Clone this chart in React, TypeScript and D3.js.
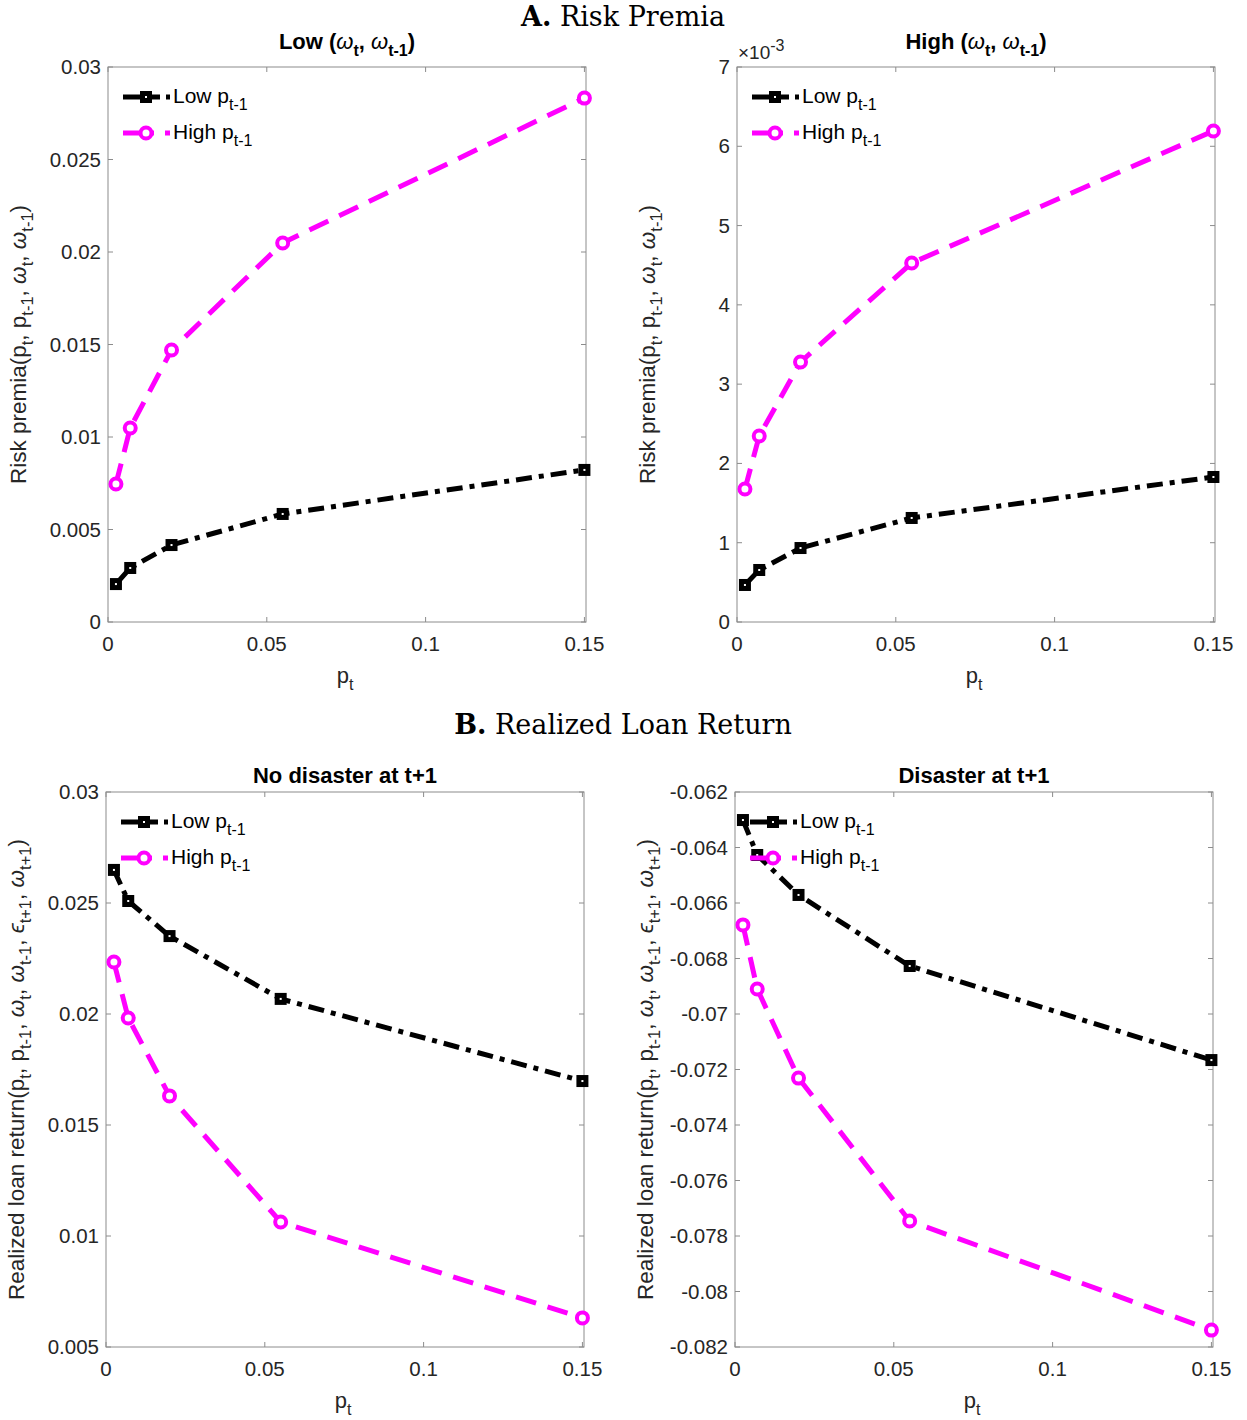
import React from "react";
import * as d3 from "d3";

const pT = [0.0025, 0.007, 0.02, 0.055, 0.15];

const rpLowOmegaLowP = [0.00205, 0.00292, 0.00416, 0.00584, 0.00822];
const rpLowOmegaHighP = [0.00746, 0.01049, 0.0147, 0.02049, 0.02832];
const rpHighOmegaLowP = [0.467, 0.656, 0.933, 1.312, 1.829];
const rpHighOmegaHighP = [1.677, 2.346, 3.279, 4.528, 6.193];

const retNoDisLowP = [0.02649, 0.02509, 0.02351, 0.02068, 0.01698];
const retNoDisHighP = [0.02234, 0.01982, 0.01631, 0.01063, 0.00631];
const retDisLowP = [-0.06301, -0.06427, -0.06571, -0.06827, -0.07166];
const retDisHighP = [-0.06679, -0.0691, -0.07231, -0.07746, -0.08139];

const xTicks = [0, 0.05, 0.1, 0.15];
const xTickLabels = ["0", "0.05", "0.1", "0.15"];
const yTicksA1 = [0, 0.005, 0.01, 0.015, 0.02, 0.025, 0.03];
const yTickLabelsA1 = ["0", "0.005", "0.01", "0.015", "0.02", "0.025", "0.03"];
const yTicksA2 = [0, 1, 2, 3, 4, 5, 6, 7];
const yTickLabelsA2 = ["0", "1", "2", "3", "4", "5", "6", "7"];
const yTicksB1 = [0.005, 0.01, 0.015, 0.02, 0.025, 0.03];
const yTickLabelsB1 = ["0.005", "0.01", "0.015", "0.02", "0.025", "0.03"];
const yTicksB2 = [-0.082, -0.08, -0.078, -0.076, -0.074, -0.072, -0.07, -0.068, -0.066, -0.064, -0.062];
const yTickLabelsB2 = ["-0.082", "-0.08", "-0.078", "-0.076", "-0.074", "-0.072", "-0.07", "-0.068", "-0.066", "-0.064", "-0.062"];

const legendLabels = ["Low", "High"];

type Part = { t: string; sub?: boolean; it?: boolean; bold?: boolean };

const SANS = "'Liberation Sans', Arial, sans-serif";
const SERIF = "'DejaVu Serif', 'Liberation Serif', serif";
const AX = "#262626";
const BOXC = "#8c8c8c";

function Rich({ parts, subSize }: { parts: Part[]; subSize: number }) {
  const out: any[] = [];
  let prevSub = false;
  parts.forEach((p, i) => {
    let dy = 0;
    if (p.sub && !prevSub) dy = subSize * 0.45;
    if (!p.sub && prevSub) dy = -subSize * 0.45;
    out.push(
      <tspan
        key={i}
        dy={dy || undefined}
        fontSize={p.sub ? subSize : undefined}
        fontStyle={p.it ? "italic" : undefined}
        fontWeight={p.bold === false ? "normal" : p.bold ? "bold" : undefined}
      >
        {p.t}
      </tspan>
    );
    prevSub = !!p.sub;
  });
  return <>{out}</>;
}

const W = 478;
const H = 555;

function Marker({ kind, x, y }: { kind: string; x: number; y: number }) {
  if (kind === "sq")
    return (
      <g>
        <rect x={x - 6} y={y - 6} width={12} height={12} fill="#000" />
        <rect x={x - 1} y={y - 1} width={2} height={2} fill="#fff" />
      </g>
    );
  return <circle cx={x} cy={y} r={5.5} fill="#fff" stroke="#ff00ff" strokeWidth={4} />;
}

function Panel(props: {
  left: number;
  top: number;
  yDomain: [number, number];
  yTicks: number[];
  yLabels: string[];
  title: Part[];
  titleY: number;
  ylabel: Part[];
  low: number[];
  high: number[];
  exponent?: boolean;
}) {
  const { left, top, yDomain, yTicks, yLabels, title, titleY, ylabel, low, high, exponent } = props;
  const x = d3.scaleLinear().domain([0, 0.1505]).range([left, left + W]);
  const y = d3.scaleLinear().domain(yDomain).range([top + H, top]);
  const lineGen = (vals: number[]) =>
    d3
      .line<number>()
      .x((_, i) => x(pT[i]))
      .y((v) => y(v))(vals) as string;
  const blackDash = "16 7 5 7";
  const magDash = "21 12";
  const series = [
    { vals: low, color: "#000", dash: blackDash, mk: "sq", ldash: "37 6 4 100" },
    { vals: high, color: "#ff00ff", dash: magDash, mk: "ci", ldash: "31 11 5 100" },
  ];
  return (
    <g>
      <rect x={left} y={top} width={W} height={H} fill="#fff" stroke={BOXC} strokeWidth={1} />
      {xTicks.map((t, i) => (
        <g key={"xt" + i}>
          <line x1={x(t)} x2={x(t)} y1={top + H} y2={top + H - 5} stroke={BOXC} />
          <line x1={x(t)} x2={x(t)} y1={top} y2={top + 5} stroke={BOXC} />
          <text x={x(t)} y={top + H + 29} textAnchor="middle" fontSize={20.5} fill={AX} fontFamily={SANS}>
            {xTickLabels[i]}
          </text>
        </g>
      ))}
      {yTicks.map((t, i) => (
        <g key={"yt" + i}>
          <line x1={left} x2={left + 5} y1={y(t)} y2={y(t)} stroke={BOXC} />
          <line x1={left + W} x2={left + W - 5} y1={y(t)} y2={y(t)} stroke={BOXC} />
          <text x={left - 7} y={y(t) + 7} textAnchor="end" fontSize={20.5} fill={AX} fontFamily={SANS}>
            {yLabels[i]}
          </text>
        </g>
      ))}
      {exponent && (
        <text x={left + 1} y={top - 8} fontSize={19} fill={AX} fontFamily={SANS}>
          ×10
          <tspan dy={-8} fontSize={16}>
            -3
          </tspan>
        </text>
      )}
      <text x={left + W / 2} y={titleY} textAnchor="middle" fontSize={22} fontWeight="bold" fill="#000" fontFamily={SANS}>
        <Rich parts={title} subSize={16} />
      </text>
      <text x={left + W / 2 - 2} y={top + H + 61} textAnchor="middle" fontSize={22} fill={AX} fontFamily={SANS}>
        <Rich parts={[{ t: "p" }, { t: "t", sub: true }]} subSize={16} />
      </text>
      <text
        transform={`translate(${left - 82},${top + H / 2}) rotate(-90)`}
        textAnchor="middle"
        fontSize={22.5}
        fill={AX}
        fontFamily={SANS}
      >
        <Rich parts={ylabel} subSize={16.5} />
      </text>
      {series.map((s, si) => (
        <g key={"s" + si}>
          <path d={lineGen(s.vals)} fill="none" stroke={s.color} strokeWidth={5} strokeDasharray={s.dash} />
          {s.vals.map((v, i) => (
            <Marker key={i} kind={s.mk} x={x(pT[i])} y={y(v)} />
          ))}
        </g>
      ))}
      {series.map((s, si) => {
        const ly = top + 30 + si * 36;
        return (
          <g key={"lg" + si}>
            <line x1={left + 15} x2={left + 62} y1={ly} y2={ly} stroke={s.color} strokeWidth={5} strokeDasharray={s.ldash} />
            <Marker kind={s.mk} x={left + 38} y={ly} />
            <text x={left + 65} y={ly + 6} fontSize={21} fill="#000" fontFamily={SANS}>
              <Rich parts={[{ t: legendLabels[si] + " p" }, { t: "t-1", sub: true }]} subSize={16} />
            </text>
          </g>
        );
      })}
    </g>
  );
}

const omega = "\u03C9";
const eps = "\u03F5";

export default function App() {
  const rpLabel: Part[] = [
    { t: "Risk premia(p" },
    { t: "t", sub: true },
    { t: ", p" },
    { t: "t-1", sub: true },
    { t: ", " },
    { t: omega, it: true },
    { t: "t", sub: true },
    { t: ", " },
    { t: omega, it: true },
    { t: "t-1", sub: true },
    { t: ")" },
  ];
  const retLabel: Part[] = [
    { t: "Realized loan return(p" },
    { t: "t", sub: true },
    { t: ", p" },
    { t: "t-1", sub: true },
    { t: ", " },
    { t: omega, it: true },
    { t: "t", sub: true },
    { t: ", " },
    { t: omega, it: true },
    { t: "t-1", sub: true },
    { t: ", " },
    { t: eps, it: true },
    { t: "t+1", sub: true },
    { t: ", " },
    { t: omega, it: true },
    { t: "t+1", sub: true },
    { t: ")" },
  ];
  const t1: Part[] = [
    { t: "Low (" },
    { t: omega, it: true, bold: false },
    { t: "t", sub: true },
    { t: ", " },
    { t: omega, it: true, bold: false },
    { t: "t-1", sub: true },
    { t: ")" },
  ];
  const t2: Part[] = [
    { t: "High (" },
    { t: omega, it: true, bold: false },
    { t: "t", sub: true },
    { t: ", " },
    { t: omega, it: true, bold: false },
    { t: "t-1", sub: true },
    { t: ")" },
  ];
  return (
    <svg width={1247} height={1420} style={{ display: "block", position: "absolute", left: 0, top: 0 }}>
      <rect width={1247} height={1420} fill="#fff" />
      <text x={623} y={26} textAnchor="middle" fontSize={27} fontFamily={SERIF} fill="#000">
        <tspan fontWeight="bold">A.</tspan> Risk Premia
      </text>
      <text x={623} y={734} textAnchor="middle" fontSize={27} fontFamily={SERIF} fill="#000">
        <tspan fontWeight="bold">B.</tspan> Realized Loan Return
      </text>
      <Panel
        left={108}
        top={67}
        yDomain={[0, 0.03]}
        yTicks={yTicksA1}
        yLabels={yTickLabelsA1}
        title={t1}
        titleY={49}
        ylabel={rpLabel}
        low={rpLowOmegaLowP}
        high={rpLowOmegaHighP}
      />
      <Panel
        left={737}
        top={67}
        yDomain={[0, 7]}
        yTicks={yTicksA2}
        yLabels={yTickLabelsA2}
        title={t2}
        titleY={49}
        ylabel={rpLabel}
        low={rpHighOmegaLowP}
        high={rpHighOmegaHighP}
        exponent
      />
      <Panel
        left={106}
        top={792}
        yDomain={[0.005, 0.03]}
        yTicks={yTicksB1}
        yLabels={yTickLabelsB1}
        title={[{ t: "No disaster at t+1" }]}
        titleY={783}
        ylabel={retLabel}
        low={retNoDisLowP}
        high={retNoDisHighP}
      />
      <Panel
        left={735}
        top={792}
        yDomain={[-0.082, -0.062]}
        yTicks={yTicksB2}
        yLabels={yTickLabelsB2}
        title={[{ t: "Disaster at t+1" }]}
        titleY={783}
        ylabel={retLabel}
        low={retDisLowP}
        high={retDisHighP}
      />
    </svg>
  );
}
